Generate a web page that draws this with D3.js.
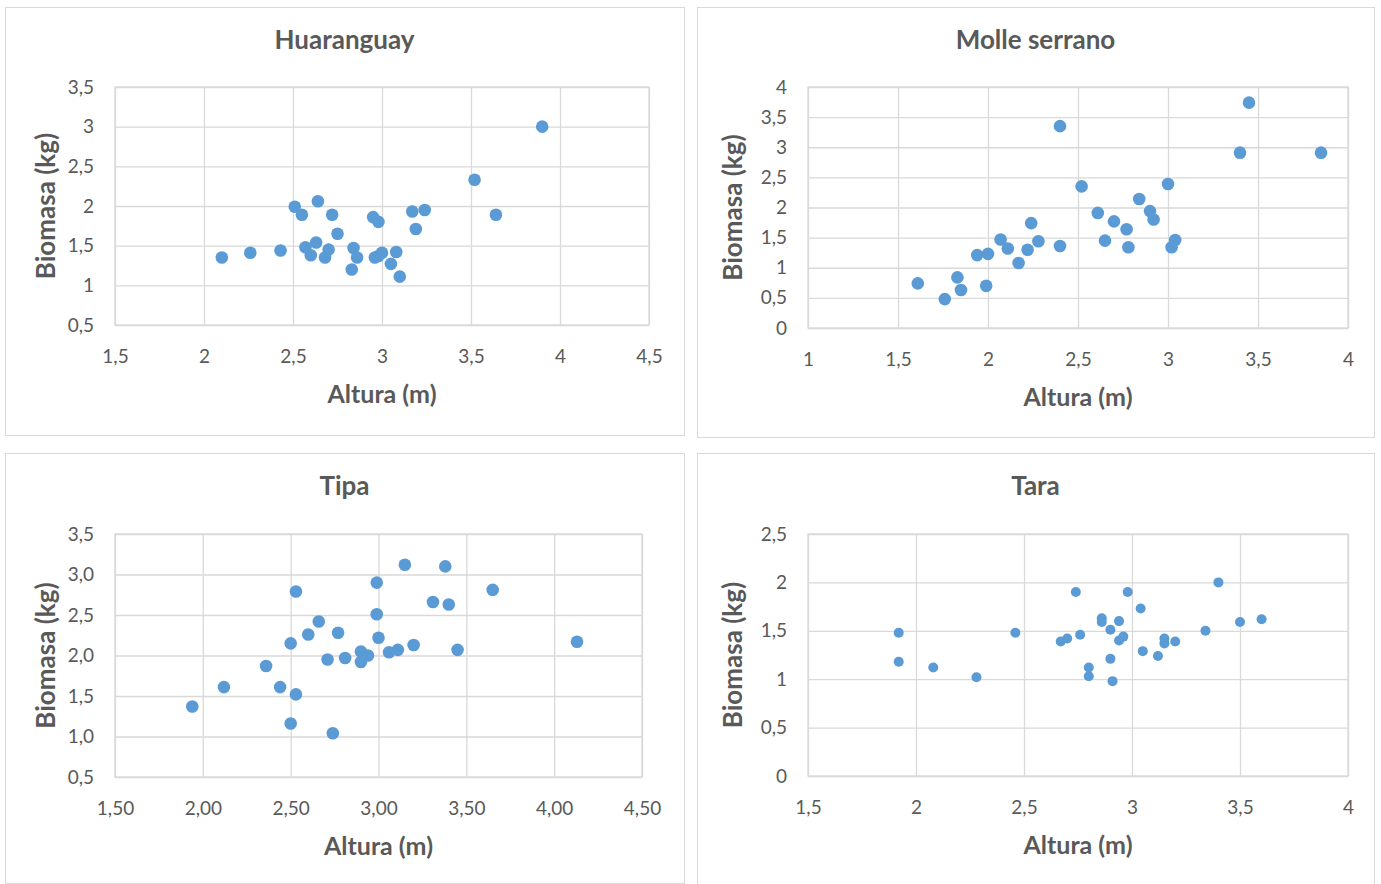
<!DOCTYPE html>
<html><head><meta charset="utf-8">
<script src="https://cdn.jsdelivr.net/npm/d3@7"></script>
<style>
html,body{margin:0;padding:0;background:#fff;}
svg{display:block;}
text{font-family:Lato,"Open Sans",sans-serif;}
</style></head>
<body><svg id="c" width="1381" height="884"></svg>
<script>
// ---- Data ----
const titles = ["Huaranguay", "Molle serrano", "Tipa", "Tara"];
const xTitle = "Altura (m)";
const yTitle = "Biomasa (kg)";

const huaranguayX = [3.90,3.52,3.64,2.51,2.55,2.64,2.72,2.75,2.95,2.98,3.17,3.24,3.19,2.10,2.26,2.43,2.57,2.63,2.60,2.70,2.68,2.84,2.86,2.83,2.96,3.00,2.98,3.08,3.05,3.10];
const huaranguayY = [3.00,2.33,1.89,1.99,1.89,2.06,1.89,1.65,1.86,1.80,1.93,1.95,1.71,1.35,1.41,1.44,1.48,1.54,1.38,1.45,1.35,1.47,1.35,1.20,1.35,1.41,1.37,1.42,1.27,1.11];

const molleX = [3.45,2.40,3.40,3.85,2.52,3.00,2.84,2.61,2.90,2.92,2.70,2.77,2.24,2.07,2.11,2.28,2.22,2.40,2.65,2.78,3.04,3.02,1.94,2.00,2.17,1.61,1.83,1.85,1.99,1.76];
const molleY = [3.74,3.35,2.91,2.91,2.35,2.39,2.14,1.91,1.94,1.80,1.77,1.64,1.74,1.47,1.32,1.44,1.30,1.36,1.45,1.34,1.46,1.34,1.21,1.23,1.08,0.74,0.84,0.63,0.70,0.48];

const tipaX = [3.15,3.38,2.99,2.53,3.65,3.31,3.40,2.99,2.66,2.60,2.77,3.00,2.50,3.20,4.13,3.11,3.06,3.45,2.90,2.94,2.90,2.71,2.81,2.36,2.12,2.44,2.53,1.94,2.50,2.74];
const tipaY = [3.12,3.10,2.90,2.79,2.81,2.66,2.63,2.51,2.42,2.26,2.28,2.22,2.15,2.13,2.17,2.07,2.04,2.07,2.05,2.00,1.92,1.95,1.97,1.87,1.61,1.61,1.52,1.37,1.16,1.04];

const taraX = [3.40,2.74,2.98,3.04,2.86,2.86,2.94,3.50,3.60,2.90,3.34,1.92,2.46,2.76,2.70,2.67,2.96,2.94,3.15,3.15,3.20,3.05,3.12,2.90,1.92,2.08,2.28,2.80,2.80,2.91];
const taraY = [2.00,1.90,1.90,1.73,1.63,1.59,1.60,1.59,1.62,1.51,1.50,1.48,1.48,1.46,1.42,1.39,1.44,1.40,1.42,1.37,1.39,1.29,1.24,1.21,1.18,1.12,1.02,1.12,1.03,0.98];

// tick values and labels
const huaranguayXTicks = [1.5,2,2.5,3,3.5,4,4.5];
const huaranguayXLabels = ["1,5","2","2,5","3","3,5","4","4,5"];
const huaranguayYTicks = [0.5,1,1.5,2,2.5,3,3.5];
const huaranguayYLabels = ["0,5","1","1,5","2","2,5","3","3,5"];

const molleXTicks = [1,1.5,2,2.5,3,3.5,4];
const molleXLabels = ["1","1,5","2","2,5","3","3,5","4"];
const molleYTicks = [0,0.5,1,1.5,2,2.5,3,3.5,4];
const molleYLabels = ["0","0,5","1","1,5","2","2,5","3","3,5","4"];

const tipaXTicks = [1.5,2,2.5,3,3.5,4,4.5];
const tipaXLabels = ["1,50","2,00","2,50","3,00","3,50","4,00","4,50"];
const tipaYTicks = [0.5,1,1.5,2,2.5,3,3.5];
const tipaYLabels = ["0,5","1,0","1,5","2,0","2,5","3,0","3,5"];

const taraXTicks = [1.5,2,2.5,3,3.5,4];
const taraXLabels = ["1,5","2","2,5","3","3,5","4"];
const taraYTicks = [0,0.5,1,1.5,2,2.5];
const taraYLabels = ["0","0,5","1","1,5","2","2,5"];

// ---- Layout ----
const panels = [
  {title:titles[0], xs:huaranguayX, ys:huaranguayY, xt:huaranguayXTicks, xl:huaranguayXLabels, yt:huaranguayYTicks, yl:huaranguayYLabels,
   box:[5,7,679,428], plot:[115,87,649,325], r:6.3, yOff:60},
  {title:titles[1], xs:molleX, ys:molleY, xt:molleXTicks, xl:molleXLabels, yt:molleYTicks, yl:molleYLabels,
   box:[697,7,677,430], plot:[808,87,1348,328], r:6.3, yOff:66},
  {title:titles[2], xs:tipaX, ys:tipaY, xt:tipaXTicks, xl:tipaXLabels, yt:tipaYTicks, yl:tipaYLabels,
   box:[5,453,679,430], plot:[115,534,642,777], r:6.3, yOff:60},
  {title:titles[3], xs:taraX, ys:taraY, xt:taraXTicks, xl:taraXLabels, yt:taraYTicks, yl:taraYLabels,
   box:[697,453,677,431], plot:[808,534,1348,776], r:5, yOff:66}
];

const svg = d3.select("#c");
const grid = "#d9d9d9", txt = "#595959", dot = "#5b9bd5";

panels.forEach(p => {
  const g = svg.append("g");
  g.append("rect").attr("x",p.box[0]+0.5).attr("y",p.box[1]+0.5).attr("width",p.box[2]).attr("height",p.box[3])
    .attr("fill","#fff").attr("stroke",grid).attr("stroke-width",1);
  const [x0,y0,x1,y1] = p.plot;
  const x = d3.scaleLinear().domain([p.xt[0], p.xt[p.xt.length-1]]).range([x0,x1]);
  const y = d3.scaleLinear().domain([p.yt[0], p.yt[p.yt.length-1]]).range([y1,y0]);

  // gridlines
  const xg = g.append("g").attr("transform",`translate(0,${y1})`)
    .call(d3.axisBottom(x).tickValues(p.xt).tickSize(-(y1-y0)).tickFormat(""));
  const yg = g.append("g").attr("transform",`translate(${x0},0)`)
    .call(d3.axisLeft(y).tickValues(p.yt).tickSize(-(x1-x0)).tickFormat(""));
  [xg,yg].forEach(a => { a.select(".domain").remove(); a.selectAll("line").attr("stroke",grid).attr("stroke-width",1.3); });
  g.append("rect").attr("x",x0).attr("y",y0).attr("width",x1-x0).attr("height",y1-y0)
    .attr("fill","none").attr("stroke",grid).attr("stroke-width",1.3);

  // tick labels
  const xa = g.append("g").attr("transform",`translate(0,${y1})`)
    .call(d3.axisBottom(x).tickValues(p.xt).tickSize(0).tickPadding(25).tickFormat((d,i)=>p.xl[i]));
  const ya = g.append("g").attr("transform",`translate(${x0},0)`)
    .call(d3.axisLeft(y).tickValues(p.yt).tickSize(0).tickPadding(21).tickFormat((d,i)=>p.yl[i]));
  [xa,ya].forEach(a => { a.select(".domain").remove();
    a.selectAll("text").attr("fill",txt).style("font-size","19px").style("font-family","Lato, sans-serif"); });

  // points
  g.append("g").selectAll("circle").data(p.xs.map((v,i)=>[v,p.ys[i]])).join("circle")
    .attr("cx",d=>x(d[0])).attr("cy",d=>y(d[1])).attr("r",p.r).attr("fill",dot);

  // titles
  g.append("text").attr("x",p.box[0] + p.box[2]/2).attr("y",p.box[1]+42).attr("text-anchor","middle")
    .attr("fill",txt).style("font-size","26px").style("font-weight","bold").text(p.title);
  g.append("text").attr("x",(x0+x1)/2).attr("y",y1+78).attr("text-anchor","middle")
    .attr("fill",txt).style("font-size","25px").style("font-weight","bold").text(xTitle);
  g.append("text").attr("transform",`translate(${x0-p.yOff},${(y0+y1)/2}) rotate(-90)`).attr("text-anchor","middle")
    .attr("fill",txt).style("font-size","26px").style("font-weight","bold").text(yTitle);
});
</script></body></html>
